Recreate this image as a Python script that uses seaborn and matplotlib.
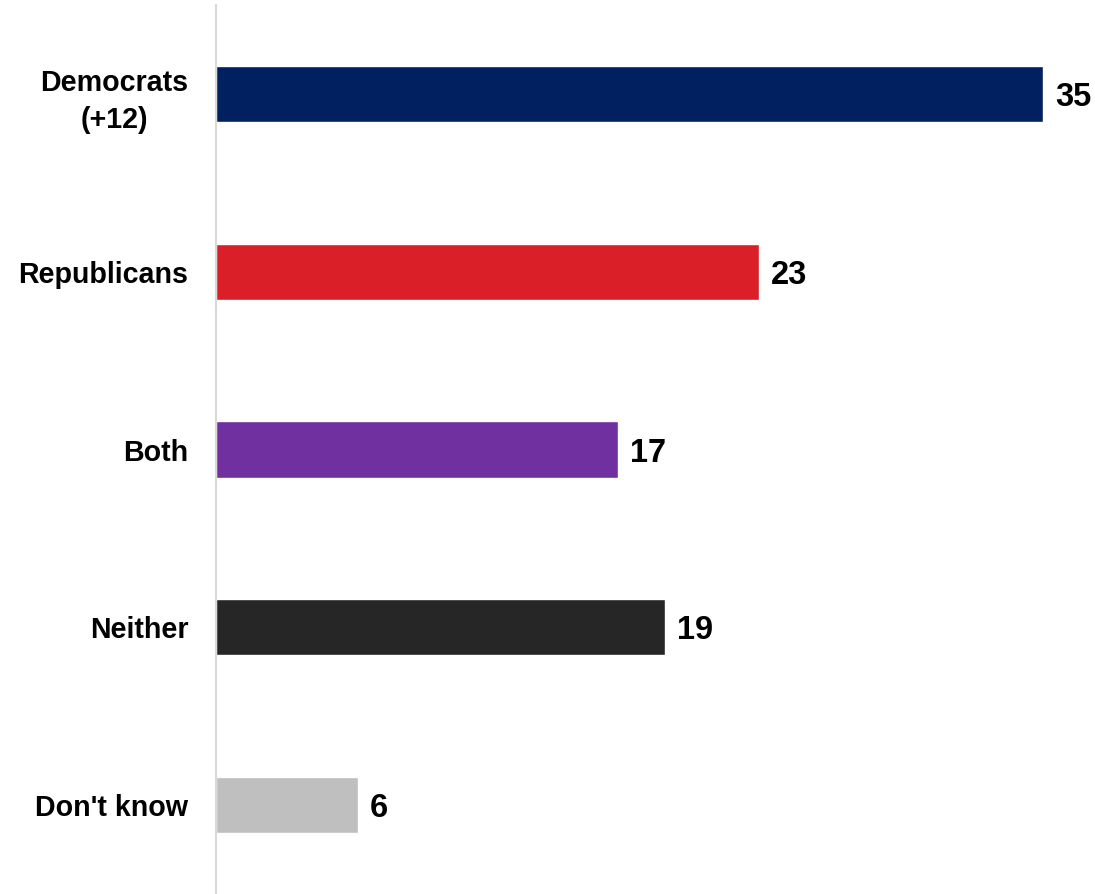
import matplotlib
matplotlib.use("Agg")
import matplotlib.pyplot as plt
import seaborn as sns
import pandas as pd

# Data
categories = ["Democrats\n(+12)", "Republicans", "Both", "Neither", "Don't know"]
values = [35, 23, 17, 19, 6]
colors = ["#002060", "#DA1F28", "#7030A0", "#262626", "#BFBFBF"]

sns.set_style("white")
plt.rcParams['font.family'] = ['Liberation Sans', 'DejaVu Sans']

df = pd.DataFrame({"category": categories, "value": values})

fig = plt.figure(figsize=(10.95, 8.94), dpi=100)
ax = fig.add_axes([0.1973, 0.0, 0.8027, 0.9944])

sns.barplot(data=df, x="value", y="category", hue="category", palette=colors,
            orient="h", width=0.315, legend=False, ax=ax, saturation=1)

ax.set_xlim(0, 37.2)
ax.set_ylim(4.5, -0.5)

# value labels at bar ends
for i, v in enumerate(values):
    ax.text(v + 0.5, i, str(v), va="center_baseline", ha="left",
            fontsize=23.5, fontweight="bold", color="black")

ax.set_xlabel("")
ax.set_ylabel("")
ax.set_xticks([])
ax.tick_params(axis="y", length=0, pad=20, labelcolor="black")
for lbl in ax.get_yticklabels():
    lbl.set_fontsize(20.6)
    lbl.set_fontweight("bold")
    lbl.set_horizontalalignment("right")
    lbl.set_multialignment("center")
    lbl.set_linespacing(1.4)

for side in ["top", "right", "bottom"]:
    ax.spines[side].set_visible(False)
ax.spines["left"].set_color("#D9D9D9")
ax.spines["left"].set_linewidth(1.5)

plt.savefig("out.png", dpi=100)
plt.close()
